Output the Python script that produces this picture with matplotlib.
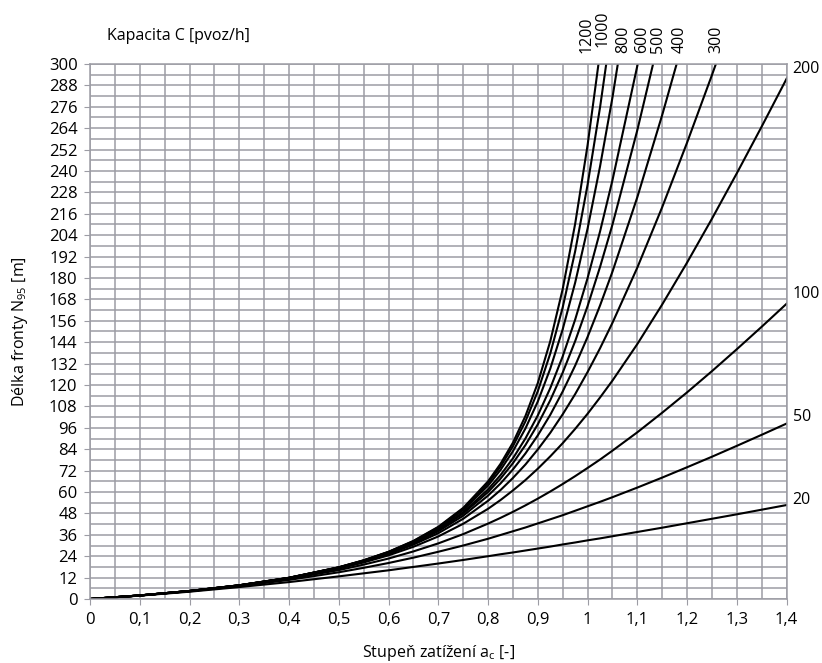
import matplotlib
matplotlib.use('Agg')
import matplotlib.pyplot as plt
from matplotlib.ticker import MultipleLocator, FuncFormatter

# stupen zatizeni a_c [-]
zatizeni = [0, 0.1, 0.2, 0.3, 0.4, 0.5, 0.55, 0.6, 0.65, 0.7, 0.75, 0.8, 0.825, 0.85,
            0.875, 0.9, 0.925, 0.95, 0.975, 1.0, 1.025, 1.05, 1.1, 1.15, 1.2, 1.25,
            1.3, 1.35, 1.4]

# delka fronty N95 [m], pro kazdou kapacitu C [pvoz/h]
fronta_20 = [0, 1.9, 4.1, 6.7, 9.5, 12.7, 14.4, 16.1, 18.0, 19.9, 21.9, 24.0, 25.1, 26.1,
             27.2, 28.3, 29.4, 30.6, 31.7, 32.9, 34.0, 35.2, 37.6, 40.0, 42.5, 45.0,
             47.5, 50.1, 52.7]
fronta_50 = [0, 2.0, 4.3, 7.2, 10.7, 15.0, 17.5, 20.2, 23.2, 26.5, 30.0, 33.8, 35.9, 38.0,
             40.1, 42.4, 44.7, 47.0, 49.5, 52.0, 54.5, 57.1, 62.5, 68.1, 73.9, 79.8,
             85.9, 92.1, 98.4]
fronta_100 = [0, 2.0, 4.4, 7.5, 11.3, 16.2, 19.3, 22.7, 26.7, 31.2, 36.4, 42.3, 45.5, 48.9,
              52.5, 56.3, 60.3, 64.5, 68.9, 73.5, 78.2, 83.2, 93.5, 104.5, 115.9, 127.8,
              140.1, 152.7, 165.6]
fronta_200 = [0, 2.0, 4.5, 7.6, 11.6, 17.0, 20.5, 24.5, 29.3, 35.1, 42.2, 50.6, 55.5, 60.9,
              66.7, 73.1, 80.0, 87.4, 95.4, 103.9, 113.0, 122.5, 143.0, 165.2, 188.7, 213.3,
              238.8, 265.0, 291.8]
fronta_300 = [0, 2.0, 4.5, 7.6, 11.7, 17.3, 20.9, 25.2, 30.5, 36.9, 45.0, 55.1, 61.1, 67.9,
              75.4, 83.9, 93.2, 103.6, 114.9, 127.3, 140.6, 154.9, 185.9, 219.8, 256.0, 293.9,
              333.2]
fronta_400 = [0, 2.0, 4.5, 7.6, 11.8, 17.5, 21.2, 25.6, 31.1, 38.0, 46.7, 58.0, 64.8, 72.7,
              81.6, 91.8, 103.3, 116.4, 130.9, 147.0, 164.6, 183.6, 225.4, 271.5, 320.8]
fronta_500 = [0, 2.0, 4.5, 7.7, 11.8, 17.6, 21.3, 25.9, 31.5, 38.7, 47.9, 60.0, 67.5, 76.2,
              86.3, 98.0, 111.5, 127.0, 144.6, 164.3, 186.2, 210.0, 263.0, 321.6]
fronta_600 = [0, 2.0, 4.5, 7.7, 11.9, 17.7, 21.4, 26.1, 31.8, 39.2, 48.7, 61.5, 69.5, 78.9,
              90.0, 103.0, 118.3, 136.1, 156.7, 180.0, 206.1, 234.9, 299.1, 370.6]
fronta_800 = [0, 2.0, 4.5, 7.7, 11.9, 17.7, 21.6, 26.3, 32.2, 39.8, 49.9, 63.6, 72.4, 82.9,
              95.6, 110.8, 129.2, 151.3, 177.4, 207.8, 242.6, 281.3, 368.8]
fronta_1000 = [0, 2.0, 4.5, 7.7, 11.9, 17.8, 21.7, 26.4, 32.4, 40.2, 50.6, 65.0, 74.3, 85.7,
               99.6, 116.6, 137.7, 163.6, 195.0, 232.4, 275.7, 324.6]
fronta_1200 = [0, 2.0, 4.5, 7.7, 11.9, 17.8, 21.7, 26.5, 32.6, 40.5, 51.1, 66.0, 75.8, 87.7,
               102.6, 121.2, 144.6, 173.9, 210.4, 254.6, 306.6]

kapacity = [20, 50, 100, 200, 300, 400, 500, 600, 800, 1000, 1200]
fronty = [fronta_20, fronta_50, fronta_100, fronta_200, fronta_300, fronta_400,
          fronta_500, fronta_600, fronta_800, fronta_1000, fronta_1200]

plt.rcParams['font.family'] = ['Open Sans', 'DejaVu Sans']
plt.rcParams['mathtext.fontset'] = 'custom'
plt.rcParams['mathtext.rm'] = 'Open Sans'
plt.rcParams['mathtext.it'] = 'Open Sans:italic'
plt.rcParams['mathtext.bf'] = 'Open Sans:bold'

GRID = '#9c9ca4'

fig = plt.figure(figsize=(8.22, 6.63), dpi=100)
ax = fig.add_axes([0.1095, 0.0965, 0.8475, 0.807])

for C, N in zip(kapacity, fronty):
    ax.plot(zatizeni[:len(N)], N, color='black', lw=1.5)

ax.set_xlim(0, 1.4)
ax.set_ylim(0, 300)
ax.xaxis.set_major_locator(MultipleLocator(0.1))
ax.xaxis.set_minor_locator(MultipleLocator(0.05))
ax.yaxis.set_major_locator(MultipleLocator(12))
ax.yaxis.set_minor_locator(MultipleLocator(6))


def carka(v, pos):
    s = f'{v:.1f}'
    if s.endswith('.0'):
        s = s[:-2]
    return s.replace('.', ',')


ax.xaxis.set_major_formatter(FuncFormatter(carka))
ax.grid(which='both', color=GRID, lw=1.1)
ax.set_axisbelow(True)
for sp in ax.spines.values():
    sp.set_color(GRID)
    sp.set_linewidth(1.1)
ax.tick_params(which='major', length=4, color=GRID, labelsize=12, pad=5)
ax.tick_params(which='minor', length=0)

ax.set_ylabel(r'Délka fronty N$_{\mathrm{95}}$ [m]', fontsize=11.5)
ax.yaxis.set_label_coords(-0.086, 0.5)
ax.set_xlabel(r'Stupeň zatížení a$_{\mathrm{c}}$ [-]', fontsize=11.5)
ax.xaxis.set_label_coords(0.5, -0.082)

fig.text(0.130, 0.945, 'Kapacita C [pvoz/h]', fontsize=11.5, va='center', ha='left')

# popisky krivek nad grafem (svisle) a vpravo
nahore = {1200: (0.997, 306), 1000: (1.030, 309.5), 800: (1.071, 306), 600: (1.109, 306),
          500: (1.141, 306), 400: (1.184, 306), 300: (1.259, 306)}
for C, (x, y) in nahore.items():
    ax.text(x, y, str(C), rotation=90, ha='center', va='bottom', fontsize=11.5, clip_on=False)

vpravo = {200: 297, 100: 171, 50: 102, 20: 55.5}
for C, y in vpravo.items():
    ax.text(1.412, y, str(C), ha='left', va='center', fontsize=11.5, clip_on=False)

fig.savefig('out.png', dpi=100)
